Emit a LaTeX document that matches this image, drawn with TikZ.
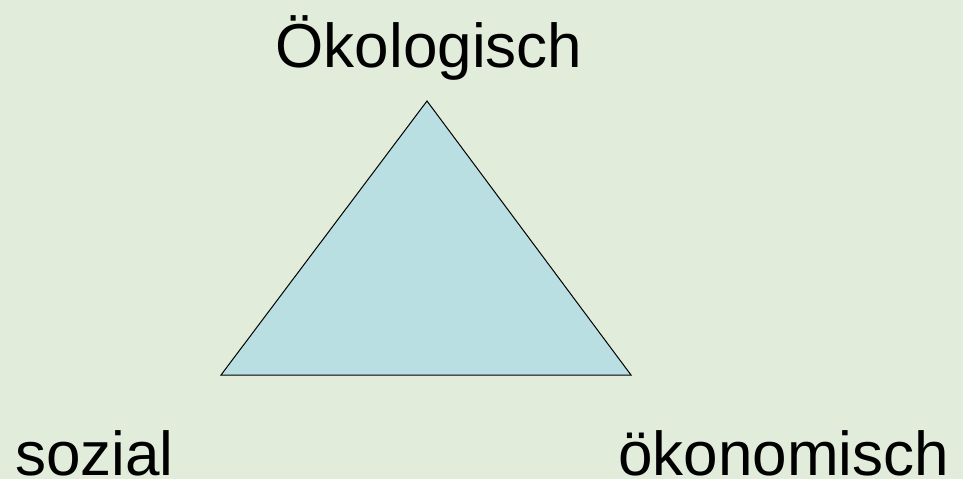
\documentclass[tikz,border=0pt]{standalone}
\usepackage{fontspec}
\setmainfont{Liberation Sans}
\usepackage{xcolor}
\definecolor{bggreen}{RGB}{226,236,218}
\definecolor{triblue}{RGB}{186,223,227}
\usepackage{tikz}

\begin{document}
\begin{tikzpicture}[x=1pt, y=-1pt, every node/.style={font=\fontsize{62}{70}\selectfont, inner sep=0pt}]
  \fill[bggreen] (0,0) rectangle (963,479);
  \useasboundingbox (0,0) rectangle (963,479);
  \coordinate (top) at (427,101);
  \coordinate (left) at (221,375);
  \coordinate (right) at (631,375);
  \draw[fill=triblue, line width=1pt, line join=miter] (top) -- (left) -- (right) -- cycle;
  \node[anchor=base] (oeko) at (429,67) {Ökologisch};
  % bottom labels have no descenders
  \node[anchor=base west, text depth=0pt] (sozial) at (15,475) {sozial};
  \node[anchor=base west, text depth=0pt] (oekon) at (618,475) {ökonomisch};
\end{tikzpicture}
\end{document}
